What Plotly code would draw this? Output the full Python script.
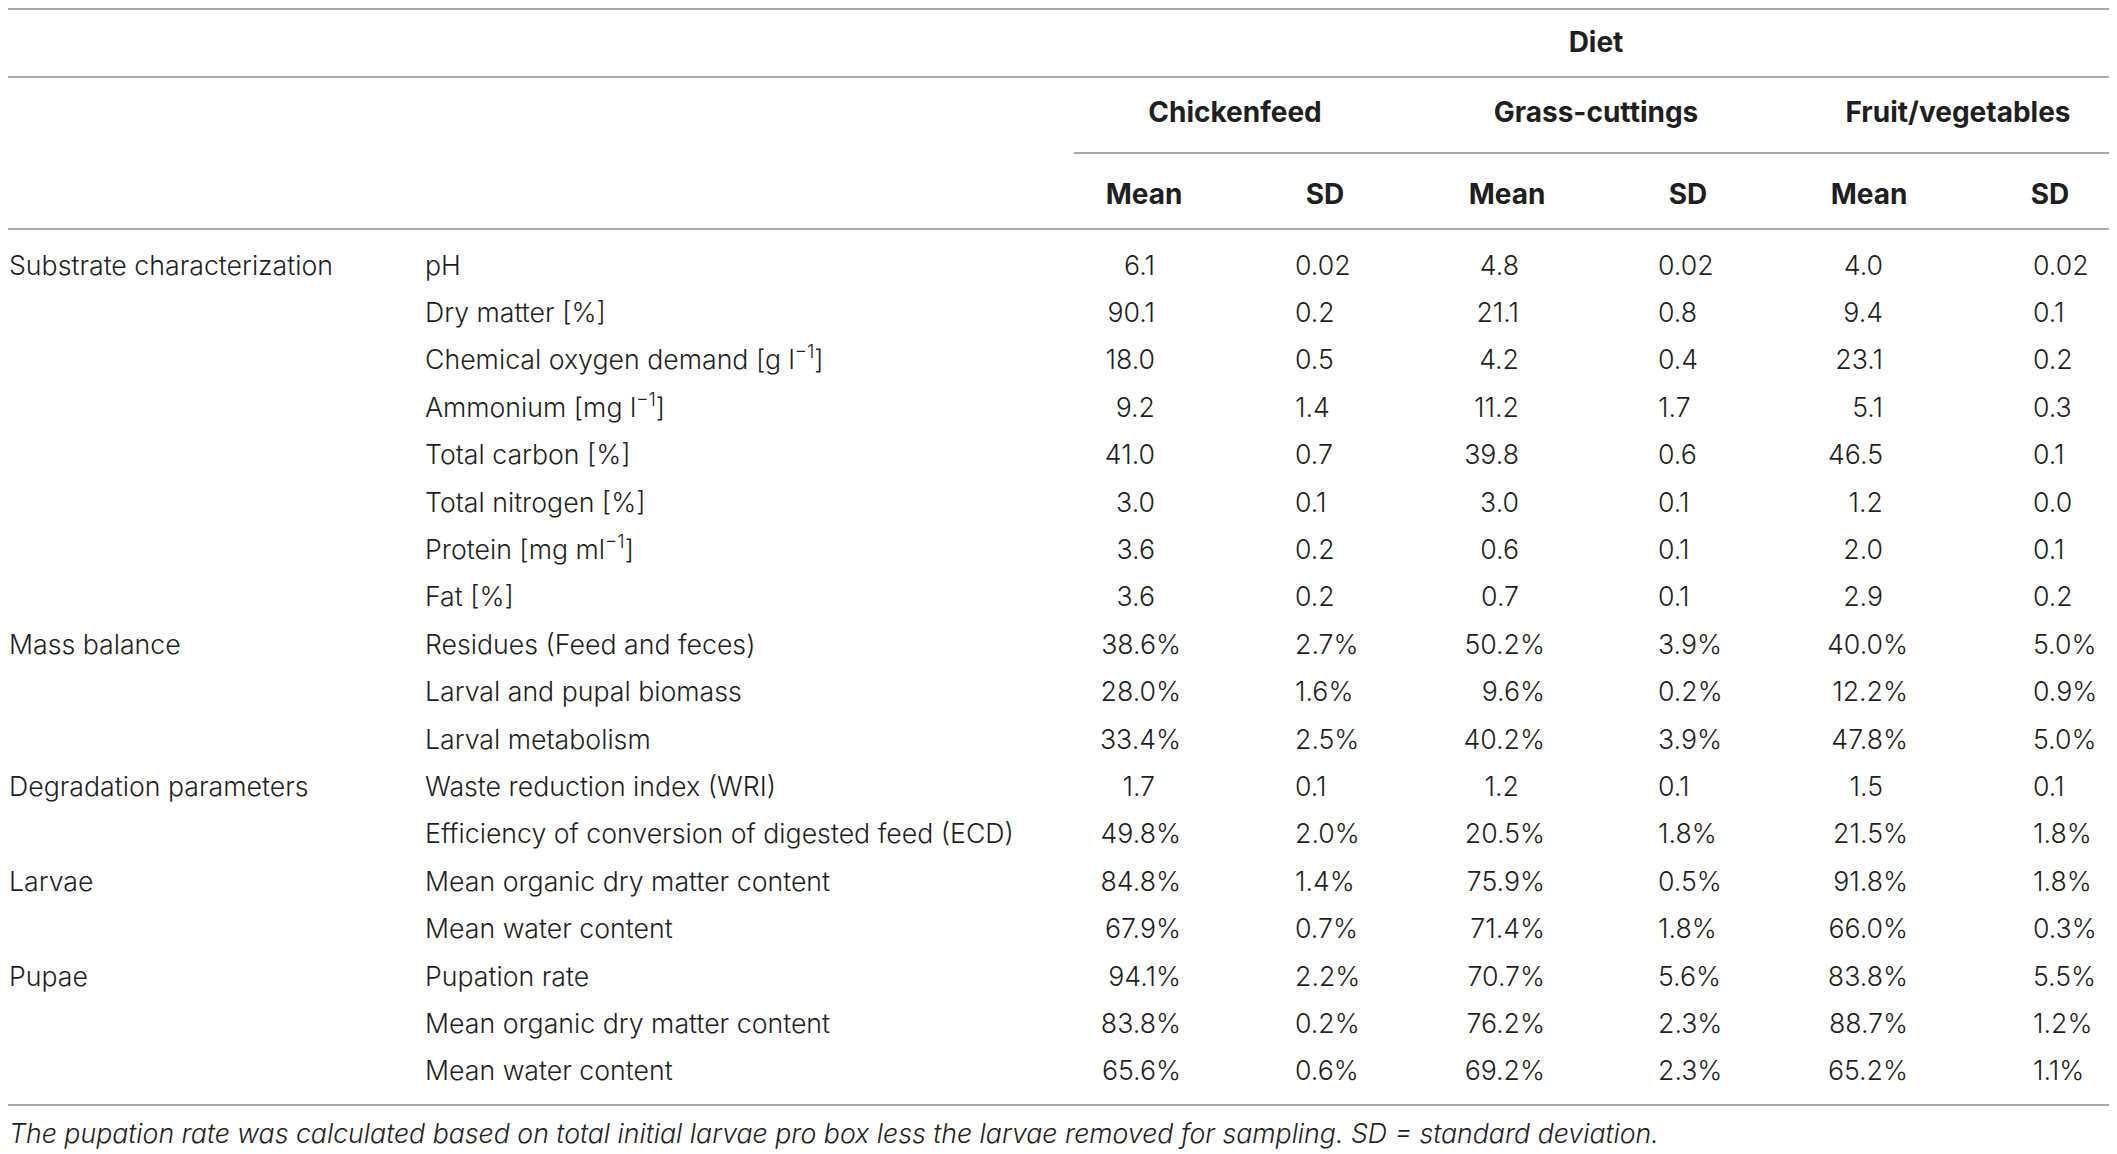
import plotly.graph_objects as go

# ---- table content ----
groups = ["Substrate characterization", "Mass balance", "Degradation parameters", "Larvae", "Pupae"]
group_start = [0, 8, 11, 13, 15]

params = [
    "pH",
    "Dry matter [%]",
    "Chemical oxygen demand [g l<sup>\u22121</sup>]",
    "Ammonium [mg l<sup>\u22121</sup>]",
    "Total carbon [%]",
    "Total nitrogen [%]",
    "Protein [mg ml<sup>\u22121</sup>]",
    "Fat [%]",
    "Residues (Feed and feces)",
    "Larval and pupal biomass",
    "Larval metabolism",
    "Waste reduction index (WRI)",
    "Efficiency of conversion of digested feed (ECD)",
    "Mean organic dry matter content",
    "Mean water content",
    "Pupation rate",
    "Mean organic dry matter content",
    "Mean water content",
]

chickenfeed_mean = ["6.1", "90.1", "18.0", "9.2", "41.0", "3.0", "3.6", "3.6", "38.6%", "28.0%", "33.4%",
                    "1.7", "49.8%", "84.8%", "67.9%", "94.1%", "83.8%", "65.6%"]
chickenfeed_sd = ["0.02", "0.2", "0.5", "1.4", "0.7", "0.1", "0.2", "0.2", "2.7%", "1.6%", "2.5%",
                  "0.1", "2.0%", "1.4%", "0.7%", "2.2%", "0.2%", "0.6%"]
grass_mean = ["4.8", "21.1", "4.2", "11.2", "39.8", "3.0", "0.6", "0.7", "50.2%", "9.6%", "40.2%",
              "1.2", "20.5%", "75.9%", "71.4%", "70.7%", "76.2%", "69.2%"]
grass_sd = ["0.02", "0.8", "0.4", "1.7", "0.6", "0.1", "0.1", "0.1", "3.9%", "0.2%", "3.9%",
            "0.1", "1.8%", "0.5%", "1.8%", "5.6%", "2.3%", "2.3%"]
fruit_mean = ["4.0", "9.4", "23.1", "5.1", "46.5", "1.2", "2.0", "2.9", "40.0%", "12.2%", "47.8%",
              "1.5", "21.5%", "91.8%", "66.0%", "83.8%", "88.7%", "65.2%"]
fruit_sd = ["0.02", "0.1", "0.2", "0.3", "0.1", "0.0", "0.1", "0.2", "5.0%", "0.9%", "5.0%",
            "0.1", "1.8%", "1.8%", "0.3%", "5.5%", "1.2%", "1.1%"]

diets = ["Chickenfeed", "Grass-cuttings", "Fruit/vegetables"]
footnote = ("The pupation rate was calculated based on total initial larvae pro box less the larvae "
            "removed for sampling. SD = standard deviation.")

# ---- layout constants ----
W, H = 2117, 1154
BODY = 8  # default page margin of the html body
ROW0, ROW_H = 265, 47.4
FONT = "Inter, Liberation Sans, Arial, sans-serif"
TXT = "#1f1f1f"
RULE = "#8e8e8e"
SIZE = 26.7
HEAD_SIZE = 28
TEXT_DY = 3 / ROW_H  # nudge text down a little so it sits like the original


def row_of(px):
    return (px - ROW0) / ROW_H


n = len(params)
rows = list(range(n))
x_group, x_param = 9, 425
# right edges of the Mean columns (plain numbers / percentages), so decimals line up
mean_right_num = [1155, 1519, 1883]
mean_right_pct = [1181, 1545, 1908]
sd_left = [1295, 1658, 2033]
mean_ctr = [1144, 1507, 1869]
sd_ctr = [1325, 1688, 2050]
diet_ctr = [1235, 1596, 1958]


def text_trace(x, y, text, pos, bold=False, italic=False, size=SIZE):
    return go.Scatter(
        x=x, y=[v + TEXT_DY for v in y], text=text, mode="text", textposition=pos,
        hoverinfo="skip", showlegend=False, cliponaxis=False,
        textfont=dict(family=FONT, size=size, color=TXT,
                      weight=700 if bold else 300,
                      style="italic" if italic else "normal"),
    )


fig = go.Figure()

# body
fig.add_trace(text_trace([x_group] * len(groups), group_start, groups, "middle right"))
fig.add_trace(text_trace([x_param] * n, rows, params, "middle right"))
for i, (m, s) in enumerate([(chickenfeed_mean, chickenfeed_sd), (grass_mean, grass_sd), (fruit_mean, fruit_sd)]):
    mx = [mean_right_pct[i] if v.endswith("%") else mean_right_num[i] for v in m]
    fig.add_trace(text_trace(mx, rows, m, "middle left"))
    fig.add_trace(text_trace([sd_left[i]] * n, rows, s, "middle right"))

# headers
fig.add_trace(text_trace([1596], [row_of(42)], ["Diet"], "middle center", bold=True, size=HEAD_SIZE))
fig.add_trace(text_trace(diet_ctr, [row_of(112)] * 3, diets, "middle center", bold=True, size=HEAD_SIZE))
fig.add_trace(text_trace(mean_ctr + sd_ctr, [row_of(194)] * 6, ["Mean"] * 3 + ["SD"] * 3,
                         "middle center", bold=True, size=HEAD_SIZE))

# footnote
fig.add_trace(text_trace([x_group], [row_of(1133)], [footnote], "middle right", italic=True))

# horizontal rules
rules = [(8, W, 9), (8, W, 77), (1074, W, 153), (8, W, 229), (8, W, 1105)]
for x0, x1, py in rules:
    fig.add_shape(type="line", x0=x0, x1=x1, y0=row_of(py), y1=row_of(py),
                  xref="x", yref="y", line=dict(color=RULE, width=1.6))

fig.update_layout(
    width=W - BODY, height=H - BODY,
    margin=dict(l=0, r=0, t=0, b=0),
    paper_bgcolor="white", plot_bgcolor="white",
    xaxis=dict(visible=False, range=[BODY, W], fixedrange=True),
    yaxis=dict(visible=False, range=[row_of(H), row_of(BODY)], fixedrange=True),
)

fig.write_html("out.html")
